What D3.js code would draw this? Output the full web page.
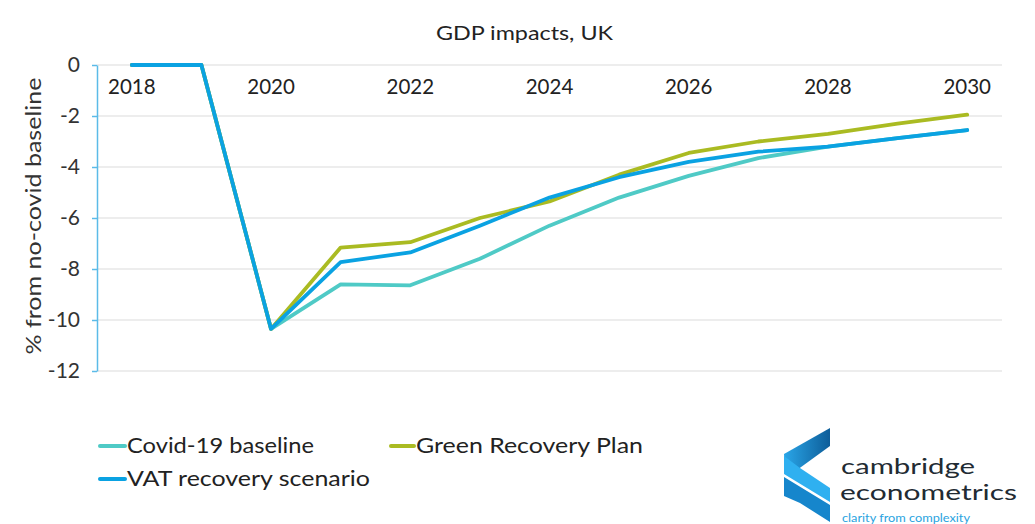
<!DOCTYPE html>
<html><head><meta charset="utf-8">
<script src="https://cdn.jsdelivr.net/npm/d3@7"></script>
<style>body{margin:0;background:#fff;font-family:Lato,"Noto Sans",sans-serif;}</style>
</head><body>
<svg id="c" width="1035" height="524"></svg>
<script>
const years = [2018,2019,2020,2021,2022,2023,2024,2025,2026,2027,2028,2029,2030];
const covidBaseline = [0,0,-10.35,-8.6,-8.64,-7.6,-6.3,-5.2,-4.35,-3.65,-3.2,-2.87,-2.55];
const greenRecovery = [0,0,-10.35,-7.16,-6.95,-6.0,-5.35,-4.3,-3.45,-3.0,-2.7,-2.3,-1.95];
const vatRecovery = [0,0,-10.35,-7.73,-7.35,-6.3,-5.2,-4.4,-3.8,-3.4,-3.2,-2.87,-2.55];
const yTicks = [0,-2,-4,-6,-8,-10,-12];
const xLabels = [2018,2020,2022,2024,2026,2028,2030];
const seriesNames = ["Covid-19 baseline","Green Recovery Plan","VAT recovery scenario"];
const seriesColors = ["#4fcac6","#aabb22","#0aa2e2"];

const svg = d3.select("#c");
const L=97, R=1002, T=65, B=371;
const x = d3.scaleBand().domain(years).range([L,R]);
const y = d3.scaleLinear().domain([-12,0]).range([B,T]);
const cx = d => x(d)+x.bandwidth()/2;

svg.append("text").attr("x",436).attr("y",40)
  .attr("font-size",20).attr("fill","#222")
  .attr("textLength",177).attr("lengthAdjust","spacingAndGlyphs").text("GDP impacts, UK");

// gridlines
svg.append("g").selectAll("line").data(yTicks).join("line")
  .attr("x1",L).attr("x2",R).attr("y1",d=>y(d)).attr("y2",d=>y(d))
  .attr("stroke","#dcdcdc").attr("stroke-width",1.2);

// y axis
const ya = svg.append("g").attr("transform",`translate(${L},0)`)
  .call(d3.axisLeft(y).tickValues(yTicks).tickSize(5).tickSizeOuter(0).tickPadding(12).tickFormat(d=>String(d)));
ya.select(".domain").attr("stroke","#5bbbe8").attr("stroke-width",1.5);
ya.selectAll(".tick line").attr("stroke","#5bbbe8").attr("stroke-width",1.5);
ya.selectAll(".tick text").attr("font-size",21).attr("fill","#333").attr("font-family","Lato,'Noto Sans',sans-serif");

// x labels
const xa = svg.append("g").attr("transform",`translate(0,${y(0)})`)
  .call(d3.axisBottom(x).tickValues(xLabels).tickSize(0).tickPadding(16));
xa.select(".domain").remove();
xa.selectAll(".tick text").attr("font-size",20.5).attr("fill","#222").attr("font-family","Lato,'Noto Sans',sans-serif")
  .attr("dy","0.62em");

svg.append("text").attr("transform","translate(41,216) rotate(-90)").attr("text-anchor","middle")
  .attr("font-size",21).attr("fill","#333")
  .attr("textLength",277).attr("lengthAdjust","spacingAndGlyphs").text("% from no-covid baseline");

const line = d3.line().x((d,i)=>cx(years[i])).y(d=>y(d));
[covidBaseline,greenRecovery,vatRecovery].forEach((s,i)=>{
  svg.append("path").datum(s).attr("d",line).attr("fill","none")
    .attr("stroke",seriesColors[i]).attr("stroke-width",3.8)
    .attr("stroke-linejoin","round").attr("stroke-linecap","round");
});

// legend
const leg = [{x:100,y:446,tx:127,ty:453,w:187},{x:391,y:446,tx:416,ty:453,w:227},{x:100,y:479,tx:127,ty:486,w:243}];
leg.forEach((p,i)=>{
  svg.append("line").attr("x1",p.x).attr("x2",p.tx-2).attr("y1",p.y).attr("y2",p.y)
    .attr("stroke",seriesColors[i]).attr("stroke-width",4).attr("stroke-linecap","round");
  svg.append("text").attr("x",p.tx).attr("y",p.ty).attr("font-size",22).attr("fill","#222")
    .attr("textLength",p.w).attr("lengthAdjust","spacingAndGlyphs").text(seriesNames[i]);
});

// logo
const lg = svg.append("g");
const gr = svg.append("defs").append("linearGradient").attr("id","g1").attr("x1","0").attr("x2","1");
gr.append("stop").attr("offset","0").attr("stop-color","#2aa6e8");
gr.append("stop").attr("offset","1").attr("stop-color","#0d5d99");
lg.append("path").attr("d","M830,428 L830,446 L797,470 L785,474 L784,454 Z").attr("fill","url(#g1)");
lg.append("path").attr("d","M784,456 L800,468 L830,488 L830,502 L784,474 Z").attr("fill","#2fb0f0");
lg.append("path").attr("d","M784,477 L830,505 L830,522 L800,503 L784,496 Z").attr("fill","#1686cc");
lg.append("text").attr("x",841).attr("y",474).attr("font-size",21).attr("fill","#222b33")
  .attr("textLength",134).attr("lengthAdjust","spacingAndGlyphs").text("cambridge");
lg.append("text").attr("x",840).attr("y",500).attr("font-size",21).attr("fill","#222b33")
  .attr("textLength",177).attr("lengthAdjust","spacingAndGlyphs").text("econometrics");
lg.append("text").attr("x",842).attr("y",522).attr("font-size",12).attr("fill","#2aa3e0")
  .attr("textLength",128).attr("lengthAdjust","spacingAndGlyphs").text("clarity from complexity");
</script>
</body></html>
